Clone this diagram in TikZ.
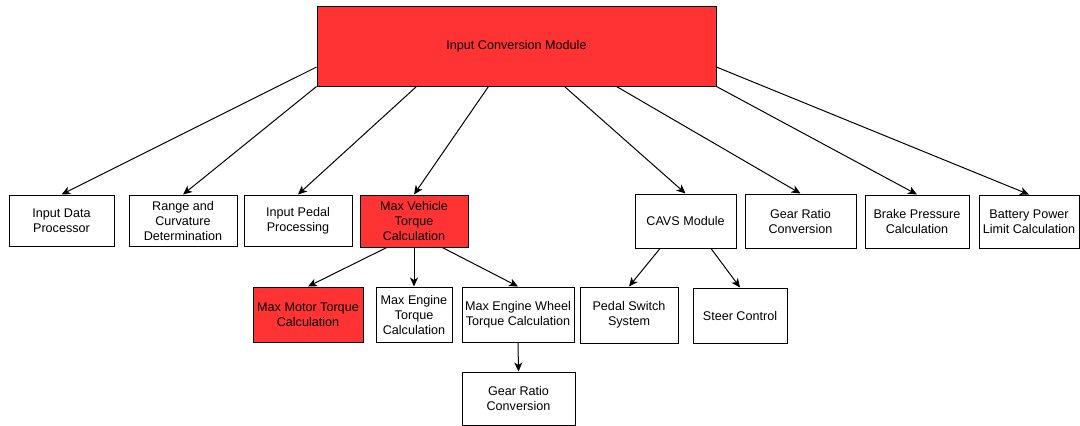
\documentclass[tikz,border=0pt]{standalone}
\usepackage{fontspec}
\setmainfont{Liberation Sans}
\usetikzlibrary{calc, arrows.meta}
\definecolor{myred}{RGB}{255,51,51}

\begin{document}
\begin{tikzpicture}[x=1pt, y=-1pt,
  box/.style={draw=black, line width=1pt, fill=white, rectangle, inner sep=0pt,
    align=center, font=\fontsize{12.6}{15}\selectfont},
  redbox/.style={box, fill=myred},
  link/.style={line width=1pt, -{Stealth[length=9pt, width=8pt, inset=2.5pt]}}]
\useasboundingbox (0,0) rectangle (1080,426);

% top module
\node[redbox, minimum width=399, minimum height=80] (icm) at (516.5,46) {Input Conversion Module};

% second row
\node[box, minimum width=105, minimum height=51] (idp) at (61.5,220.5) {Input Data\\Processor};
\node[box, minimum width=108, minimum height=51] (rcd) at (183,220.5) {Range and\\Curvature\\Determination};
\node[box, minimum width=108, minimum height=51] (ipp) at (298,220.5) {Input Pedal\\Processing};
\node[redbox, minimum width=108, minimum height=52] (mvt) at (414,221) {Max Vehicle\\Torque\\Calculation};
\node[box, minimum width=101, minimum height=54] (cavs) at (685.5,221) {CAVS Module};
\node[box, minimum width=111, minimum height=54] (grc) at (800.5,221) {Gear Ratio\\Conversion};
\node[box, minimum width=104, minimum height=53] (bpc) at (917,221.5) {Brake Pressure\\Calculation};
\node[box, minimum width=100, minimum height=53] (bpl) at (1029,221.5) {Battery Power\\Limit Calculation};

% third row
\node[redbox, minimum width=110, minimum height=55] (mmt) at (308,314.5) {Max Motor Torque\\Calculation};
\node[box, minimum width=76, minimum height=55] (met) at (414,314.5) {Max Engine\\Torque\\Calculation};
\node[box, minimum width=112, minimum height=55] (mew) at (518,314.5) {Max Engine Wheel\\Torque Calculation};
\node[box, minimum width=98, minimum height=56] (pss) at (629,315) {Pedal Switch\\System};
\node[box, minimum width=94, minimum height=55] (stc) at (740,315.5) {Steer Control};

% last row
\node[box, minimum width=113, minimum height=53] (grc2) at (518.5,398.5) {Gear Ratio\\Conversion};

% links from the top module
\draw[link] ($(icm.north west)!.76!(icm.south west)$) -- (idp.north);
\draw[link] (icm.south west) -- (rcd.north);
\draw[link] ($(icm.south west)!.25!(icm.south east)$) -- (ipp.north);
\draw[link] ($(icm.south west)!.43!(icm.south east)$) -- (mvt.north);
\draw[link] ($(icm.south west)!.62!(icm.south east)$) -- (cavs.north);
\draw[link] ($(icm.south west)!.75!(icm.south east)$) -- (grc.north);
\draw[link] (icm.south east) -- (bpc.north);
\draw[link] ($(icm.north east)!.76!(icm.south east)$) -- (bpl.north);

% torque branch
\draw[link] ($(mvt.south west)!.25!(mvt.south east)$) -- (mmt.north);
\draw[link] (mvt.south) -- (met.north);
\draw[link] ($(mvt.south west)!.76!(mvt.south east)$) -- (mew.north);
\draw[link] (mew.south) -- (grc2.north);

% CAVS branch
\draw[link] ($(cavs.south west)!.25!(cavs.south east)$) -- (pss.north);
\draw[link] ($(cavs.south west)!.75!(cavs.south east)$) -- (stc.north);
\end{tikzpicture}
\end{document}
